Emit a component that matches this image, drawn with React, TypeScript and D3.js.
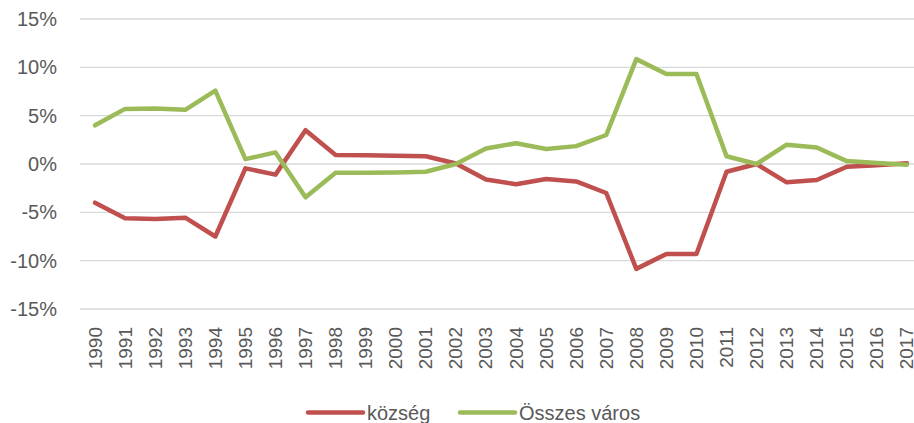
import React from "react";
import * as d3 from "d3";

const years = [
  "1990","1991","1992","1993","1994","1995","1996","1997","1998","1999",
  "2000","2001","2002","2003","2004","2005","2006","2007","2008","2009",
  "2010","2011","2012","2013","2014","2015","2016","2017",
];
const kozseg = [
  -4.0, -5.6, -5.7, -5.55, -7.5, -0.45, -1.1, 3.5, 0.93, 0.9,
  0.86, 0.8, 0.05, -1.6, -2.1, -1.55, -1.8, -3.0, -10.85, -9.3,
  -9.3, -0.8, 0.0, -1.9, -1.65, -0.28, -0.12, 0.07,
];
const varos = [
  4.0, 5.7, 5.75, 5.6, 7.6, 0.5, 1.2, -3.45, -0.9, -0.9,
  -0.88, -0.8, 0.0, 1.6, 2.15, 1.55, 1.85, 3.0, 10.85, 9.3,
  9.3, 0.8, 0.0, 2.0, 1.7, 0.3, 0.1, -0.07,
];
const yTicks = [-15, -10, -5, 0, 5, 10, 15];
const seriesNames = ["község", "Összes város"];
const seriesColors = ["#C0504D", "#9BBB59"];

export default function App() {
  const W = 914, H = 423;
  const x = d3.scaleBand().domain(years).range([80, 922]);
  const y = d3.scaleLinear().domain([-15, 15]).range([309, 19]);
  const line = d3
    .line<number>()
    .x((_, i) => (x(years[i]) as number) + x.bandwidth() / 2)
    .y((d) => y(d));
  const font = "'Liberation Sans', Arial, sans-serif";
  const series = [kozseg, varos];
  const legendX = [308, 460];
  return (
    <svg
      width={W}
      height={H}
      style={{ position: "absolute", left: 0, top: 0, background: "#fff" }}
      fontFamily={font}
    >
      {yTicks.map((t) => (
        <g key={t}>
          <line x1={80} x2={922} y1={y(t)} y2={y(t)} stroke="#D9D9D9" strokeWidth={1.3} />
          <text
            x={57}
            y={y(t)}
            textAnchor="end"
            dominantBaseline="central"
            fontSize={20}
            fill="#595959"
          >
            {t}%
          </text>
        </g>
      ))}
      {years.map((yr) => {
        const cx = (x(yr) as number) + x.bandwidth() / 2;
        return (
          <text
            key={yr}
            transform={`translate(${cx},327) rotate(-90)`}
            textAnchor="end"
            dominantBaseline="central"
            fontSize={19}
            fill="#595959"
          >
            {yr}
          </text>
        );
      })}
      {series.map((s, i) => (
        <path
          key={i}
          d={line(s) || ""}
          fill="none"
          stroke={seriesColors[i]}
          strokeWidth={4.5}
          strokeLinejoin="round"
          strokeLinecap="round"
        />
      ))}
      {seriesNames.map((n, i) => (
        <g key={n}>
          <line
            x1={legendX[i]}
            x2={legendX[i] + 55}
            y1={412.5}
            y2={412.5}
            stroke={seriesColors[i]}
            strokeWidth={4.5}
            strokeLinecap="round"
          />
          <text
            x={legendX[i] + 59}
            y={412.5}
            dominantBaseline="central"
            fontSize={20}
            fill="#595959"
          >
            {n}
          </text>
        </g>
      ))}
    </svg>
  );
}
